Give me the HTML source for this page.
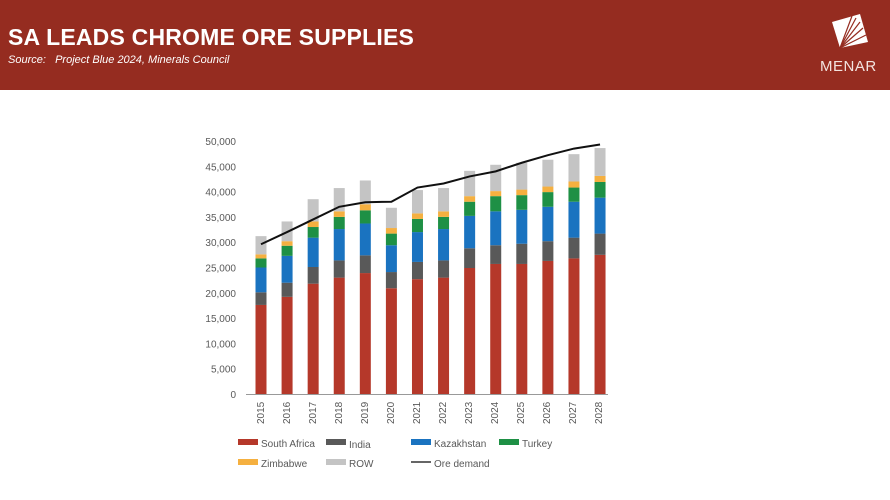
<!DOCTYPE html>
<html><head><meta charset="utf-8"><style>
body{margin:0;width:890px;height:500px;background:#fff;font-family:"Liberation Sans",sans-serif;overflow:hidden;position:relative}
.hdr{position:absolute;left:0;top:0;width:890px;height:90px;background:#952c20}
.t{position:absolute;left:8px;top:24px;color:#fff;font-weight:bold;font-size:23px;letter-spacing:0.2px}
.s{position:absolute;left:8px;top:54px;color:#fff;font-style:italic;font-size:11px}
.logo{position:absolute;left:820px;top:58px;color:#f3e3df;font-size:15px;letter-spacing:0.5px}
</style></head><body>
<div class="hdr"></div>
<div class="t">SA LEADS CHROME ORE SUPPLIES</div>
<div class="s">Source:&nbsp;&nbsp; Project Blue 2024, Minerals Council</div>
<svg style="position:absolute;left:0;top:0" width="890" height="90">
<polygon points="832,22 860,14 868,42 840,48" fill="#fff"/>
<g stroke="#952c20" stroke-width="1.2">
<line x1="840" y1="48" x2="852" y2="16"/><line x1="840" y1="48" x2="856" y2="18"/><line x1="840" y1="48" x2="860" y2="22"/><line x1="840" y1="48" x2="863" y2="28"/><line x1="840" y1="48" x2="866" y2="35"/></g>
</svg>
<div class="logo">MENAR</div>
<svg id="c" style="position:absolute;left:0;top:0" width="890" height="500" font-family="Liberation Sans, sans-serif" font-size="10" fill="#595959">
<g text-anchor="end">
<text x="236" y="398">0</text><text x="236" y="372.7">5,000</text><text x="236" y="347.4">10,000</text><text x="236" y="322.1">15,000</text><text x="236" y="296.8">20,000</text><text x="236" y="271.5">25,000</text><text x="236" y="246.2">30,000</text><text x="236" y="220.9">35,000</text><text x="236" y="195.6">40,000</text><text x="236" y="170.3">45,000</text><text x="236" y="145">50,000</text>
</g>
<g id="bars"></g>
<line x1="246" y1="394.5" x2="608" y2="394.5" stroke="#999" stroke-width="1"/>
<polyline id="ln" fill="none" stroke="#111" stroke-width="2"/>
<g id="xl">
<text transform="translate(264,424) rotate(-90)">2015</text><text transform="translate(290,424) rotate(-90)">2016</text><text transform="translate(316,424) rotate(-90)">2017</text><text transform="translate(342,424) rotate(-90)">2018</text><text transform="translate(368,424) rotate(-90)">2019</text><text transform="translate(394,424) rotate(-90)">2020</text><text transform="translate(420,424) rotate(-90)">2021</text><text transform="translate(446,424) rotate(-90)">2022</text><text transform="translate(472,424) rotate(-90)">2023</text><text transform="translate(498,424) rotate(-90)">2024</text><text transform="translate(524,424) rotate(-90)">2025</text><text transform="translate(550,424) rotate(-90)">2026</text><text transform="translate(576,424) rotate(-90)">2027</text><text transform="translate(602,424) rotate(-90)">2028</text>
</g>
<g font-size="10">
<rect x="238" y="439" width="20" height="6" fill="#b5382a"/><text x="261" y="447">South Africa</text>
<rect x="326" y="439" width="20" height="6" fill="#595959"/><text x="349" y="448">India</text>
<rect x="411" y="439" width="20" height="6" fill="#1a73c0"/><text x="434" y="447">Kazakhstan</text>
<rect x="499" y="439" width="20" height="6" fill="#1e9045"/><text x="522" y="447">Turkey</text>
<rect x="238" y="459" width="20" height="6" fill="#f5b040"/><text x="261" y="467">Zimbabwe</text>
<rect x="326" y="459" width="20" height="6" fill="#c4c4c4"/><text x="349" y="467">ROW</text>
<line x1="411" y1="462" x2="431" y2="462" stroke="#333" stroke-width="1.5"/><text x="434" y="467">Ore demand</text>
</g>
</svg>
<script>
var d=[[17.6,20.1,25,26.8,27.6,31.2,29.6],[19.2,22,27.3,29.3,30.2,34.1,32],[21.8,25.1,30.9,33,34.1,38.5,34.5],[23,26.4,32.6,35,36.1,40.7,37],[23.9,27.4,33.7,36.3,37.5,42.2,37.9],[20.9,24.1,29.4,31.7,32.8,36.8,38],[22.7,26.1,32,34.6,35.7,40.3,40.8],[23,26.4,32.6,35,36.1,40.7,41.6],[24.9,28.8,35.2,38,39.1,44.1,43],[25.7,29.4,36.1,39.1,40.1,45.3,44],[25.7,29.7,36.4,39.3,40.4,45.7,45.7],[26.3,30.2,37,39.9,41,46.3,47.2],[26.8,30.9,38,40.8,42,47.4,48.5],[27.5,31.7,38.8,41.9,43.1,48.6,49.3]];
var col=["#b5382a","#595959","#1a73c0","#1e9045","#f5b040","#c4c4c4"];
var g=document.getElementById("bars"),s="",pts=[];
function Y(v){return 394-v*5.06}
d.forEach(function(r,i){var cx=261+i*26.08,prev=0;
for(var k=0;k<6;k++){s+='<rect x="'+(cx-5.5)+'" y="'+Y(r[k])+'" width="11" height="'+(Y(prev)-Y(r[k]))+'" fill="'+col[k]+'"/>';prev=r[k];}
pts.push(cx+","+Y(r[6]));});
g.innerHTML=s;document.getElementById("ln").setAttribute("points",pts.join(" "));
</script>
</body></html>
